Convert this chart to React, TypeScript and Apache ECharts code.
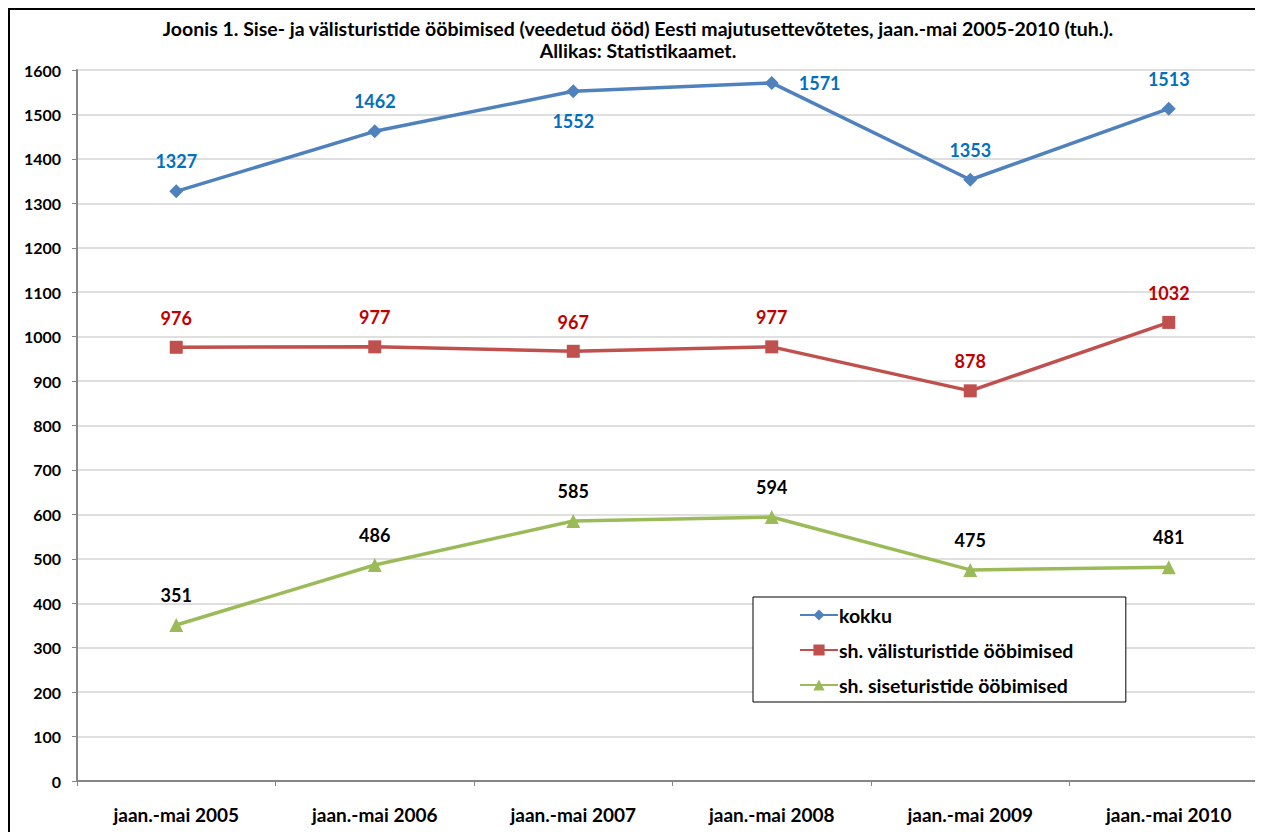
import React, { useEffect, useRef } from "react";
import * as echarts from "echarts";

const categories = [
  "jaan.-mai 2005",
  "jaan.-mai 2006",
  "jaan.-mai 2007",
  "jaan.-mai 2008",
  "jaan.-mai 2009",
  "jaan.-mai 2010",
];
const kokku = [1327, 1462, 1552, 1571, 1353, 1513];
const kokkuLabelPos = ["top", "top", "bottom", "right", "top", "top"];
const valis = [976, 977, 967, 977, 878, 1032];
const sise = [351, 486, 585, 594, 475, 481];
const seriesNames = [
  "kokku",
  "sh. välisturistide ööbimised",
  "sh. siseturistide ööbimised",
];
const titleLines = [
  "Joonis 1. Sise- ja välisturistide ööbimised (veedetud ööd) Eesti majutusettevõtetes, jaan.-mai 2005-2010 (tuh.).",
  "Allikas: Statistikaamet.",
];

const FONT = "Lato, 'Open Sans', sans-serif";

export default function App() {
  const ref = useRef<HTMLDivElement>(null);
  useEffect(() => {
    if (!ref.current) return;
    const chart = echarts.init(ref.current, undefined, { renderer: "svg" });
    const labelBase = {
      show: true,
      fontFamily: FONT,
      fontWeight: "bold",
      fontSize: 18,
      distance: 14,
    };
    chart.setOption({
      animation: false,
      backgroundColor: "#ffffff",
      textStyle: { fontFamily: FONT },
      title: {
        text: titleLines.join("\n"),
        left: 630,
        textAlign: "center",
        top: 9,
        padding: 0,
        textStyle: {
          fontFamily: FONT,
          fontWeight: "bold",
          fontSize: 19.5,
          color: "#000",
          lineHeight: 22,
        },
      },
      legend: {
        orient: "vertical",
        left: 745,
        top: 589,
        data: seriesNames,
        backgroundColor: "#fff",
        borderColor: "#000",
        borderWidth: 1,
        padding: [8, 52, 7, 46],
        itemWidth: 38,
        itemHeight: 14,
        itemGap: 15,
        textStyle: {
          fontFamily: FONT,
          fontWeight: "bold",
          fontSize: 19.5,
          color: "#000",
          padding: [0, 0, 0, -4],
        },
      },
      grid: { left: 69, top: 62, right: 20, bottom: 67 },
      xAxis: {
        type: "category",
        data: categories,
        boundaryGap: true,
        axisLine: { lineStyle: { color: "#868686", width: 2 } },
        axisTick: { show: true, length: 5, lineStyle: { color: "#868686" } },
        axisLabel: {
          fontFamily: FONT,
          fontWeight: "bold",
          fontSize: 19,
          color: "#000",
          margin: 24,
        },
        splitLine: { show: false },
      },
      yAxis: {
        type: "value",
        min: 0,
        max: 1600,
        interval: 100,
        axisLine: { show: true, lineStyle: { color: "#868686", width: 2 } },
        axisTick: { show: true, length: 5, lineStyle: { color: "#868686" } },
        axisLabel: {
          fontFamily: FONT,
          fontWeight: "bold",
          fontSize: 16,
          color: "#000",
          margin: 16,
          formatter: (v: number) => String(v),
        },
        splitLine: { lineStyle: { color: "#D4D4D4", width: 1.5 } },
      },
      series: [
        {
          name: seriesNames[0],
          type: "line",
          data: kokku.map((v, i) => ({
            value: v,
            label: { position: kokkuLabelPos[i], distance: kokkuLabelPos[i] === "right" ? 20 : 14 },
          })),
          symbol: "diamond",
          symbolSize: 14,
          color: "#4F81BD",
          lineStyle: { color: "#4F81BD", width: 3.5 },
          itemStyle: { color: "#4F81BD" },
          label: { ...labelBase, color: "#0070C0" },
          z: 3,
        },
        {
          name: seriesNames[1],
          type: "line",
          data: valis,
          symbol: "rect",
          symbolSize: 13,
          color: "#C0504D",
          lineStyle: { color: "#C0504D", width: 3.5 },
          itemStyle: { color: "#C0504D" },
          label: { ...labelBase, position: "top", color: "#C00000" },
          z: 2,
        },
        {
          name: seriesNames[2],
          type: "line",
          data: sise,
          symbol: "triangle",
          symbolSize: 14,
          color: "#9BBB59",
          lineStyle: { color: "#9BBB59", width: 3.5 },
          itemStyle: { color: "#9BBB59" },
          label: { ...labelBase, position: "top", color: "#000" },
          z: 1,
        },
      ],
    });
    return () => chart.dispose();
  }, []);
  return (
    <div
      style={{
        width: 1255,
        height: 824,
        overflow: "hidden",
        boxSizing: "border-box",
        borderLeft: "2px solid #000",
        borderTop: "2px solid #000",
        position: "relative",
      }}
    >
      <div
        ref={ref}
        style={{ width: 1280, height: 840, position: "absolute", left: -2, top: -2 }}
      />
    </div>
  );
}
